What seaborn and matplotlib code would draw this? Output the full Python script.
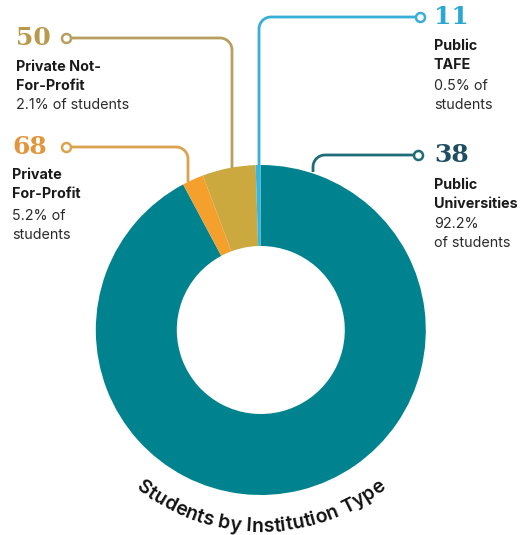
import numpy as np
import matplotlib
matplotlib.use("Agg")
import matplotlib.pyplot as plt
import seaborn as sns
from matplotlib.font_manager import FontProperties

# ---------------- data ----------------
segments = ["Public Universities", "Private For-Profit", "Private Not-For-Profit", "Public TAFE"]
segment_share = [92.2, 2.1, 5.2, 0.5]          # drawn ring shares (clockwise from top)
segment_colors = ["#01838f", "#f5a02c", "#cba93f", "#3bb5dc"]

label_counts = ["50", "68", "11", "38"]
label_names = ["Private Not-\nFor-Profit", "Private\nFor-Profit", "Public\nTAFE", "Public\nUniversities"]
label_pcts = ["2.1% of students", "5.2% of\nstudents", "0.5% of\nstudents", "92.2%\nof students"]
count_colors = ["#b89a4c", "#e2953a", "#2aa8d3", "#1f4d62"]
line_colors = ["#b89f5f", "#dba24f", "#39aed6", "#1f6c79"]
title = "Students by Institution Type"

# ---------------- figure ----------------
sns.set_theme(style="white")
plt.rcParams["font.family"] = ["Inter", "DejaVu Sans"]

W, H = 525, 535
fig = plt.figure(figsize=(W / 100, H / 100), dpi=100)
ax = fig.add_axes([0, 0, 1, 1])

def Y(y):
    return H - y

cx, cy, R, r_in = 260.8, 330, 165, 84
ax.pie(segment_share, colors=segment_colors, startangle=90, counterclock=False,
       center=(cx, Y(cy)), radius=R, frame=True,
       wedgeprops=dict(width=R - r_in, linewidth=0))
ax.set_xlim(0, W)
ax.set_ylim(0, H)
ax.set_aspect("equal")
ax.axis("off")

# leader lines: (marker x, y, vertical x, end y, direction)
leaders = [
    (66, 38, 232, 168, +1),
    (66, 147, 188, 182, +1),
    (420, 17, 259, 166, -1),
    (418, 155, 313, 172, -1),
]
rad = 12
for (mx, my, vx, ey, d), lc in zip(leaders, line_colors):
    hx_end = vx - d * rad
    t = np.linspace(0, np.pi / 2, 20)
    ccx, ccy = hx_end, my + rad
    arc_x = ccx + d * rad * np.sin(t)
    arc_y = ccy - rad * np.cos(t)
    xs = np.concatenate([[mx], arc_x, [vx]])
    ys = np.concatenate([[my], arc_y, [ey]])
    ax.plot(xs, Y(ys), color=lc, lw=2, solid_capstyle="butt", zorder=3)
    ax.plot([mx], [Y(my)], marker="o", ms=6.5, mfc="white", mec=lc, mew=1.8, zorder=4)

# text blocks: (x, count y, name y, pct y)
blocks = [
    (16, 38, 60, 98),
    (12, 147, 168, 209),
    (434, 17, 39, 79),
    (434, 155, 178, 217),
]
serif = ["DejaVu Serif"]
for (tx, cyy, ny, py), c, name, pct, col in zip(blocks, label_counts, label_names, label_pcts, count_colors):
    ax.text(tx, Y(cyy), c, fontsize=18, fontweight="bold", family=serif, color=col,
            va="center", ha="left")
    ax.text(tx, Y(ny), name, fontsize=10.3, fontweight="bold", color="#1a1a1a",
            va="top", ha="left", linespacing=1.42)
    ax.text(tx, Y(py), pct, fontsize=10.3, color="#2a2a2a",
            va="top", ha="left", linespacing=1.42)

# curved title along the bottom of the ring
fp = FontProperties(family=["Inter", "DejaVu Sans"], weight="semibold", size=14)
fig.canvas.draw()
renderer = fig.canvas.get_renderer()
def width(s):
    if not s:
        return 0.0
    w, h, d = renderer.get_text_width_height_descent(s, fp, ismath=False)
    return w
total = width(title)
arc_r = 197
for i, ch in enumerate(title):
    if ch == " ":
        continue
    mid = width(title[:i]) + width(ch) / 2
    s = mid - total / 2
    theta = -np.pi / 2 + s / arc_r
    px = cx + arc_r * np.cos(theta)
    py = Y(cy) + arc_r * np.sin(theta)
    ax.text(px, py, ch, fontproperties=fp, color="#111111",
            rotation=np.degrees(theta) + 90, rotation_mode="anchor",
            ha="center", va="center")

fig.savefig("out.png", dpi=100, facecolor="white")
